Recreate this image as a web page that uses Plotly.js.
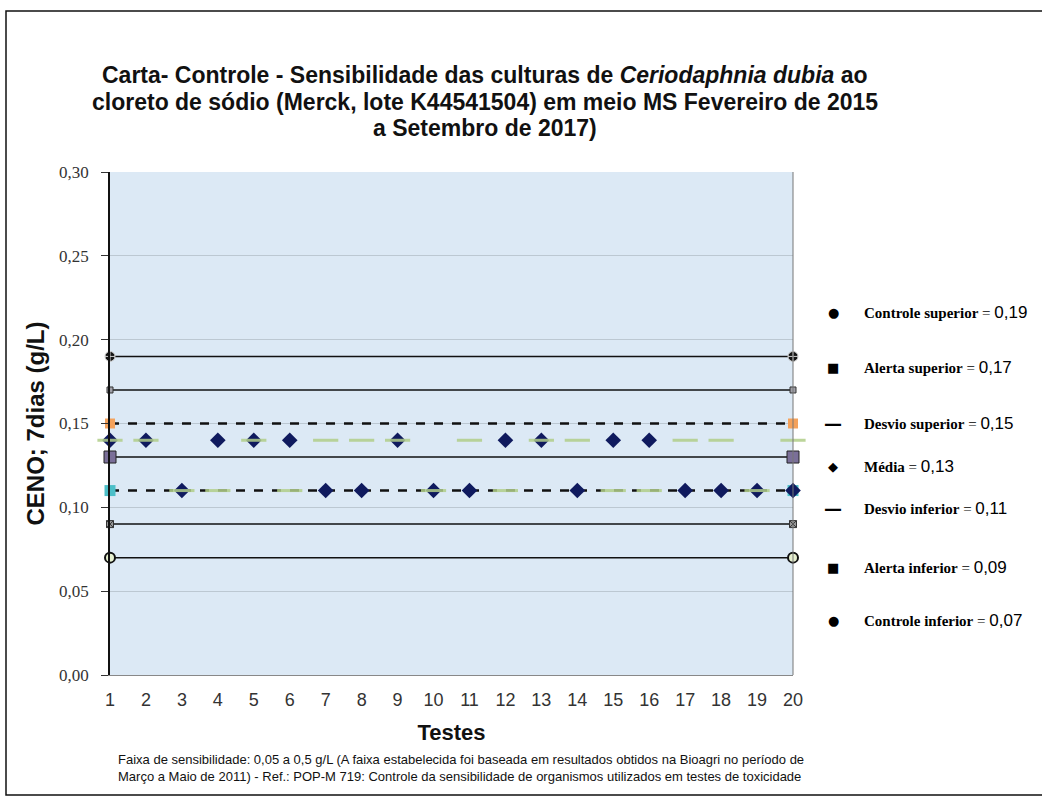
<!DOCTYPE html>
<html>
<head>
<meta charset="utf-8">
<script src="https://cdn.plot.ly/plotly-3.0.1.min.js"></script>
<style>
  body { margin: 0; background: #fff; }
  #chart { width: 1042px; height: 803px; }
</style>
</head>
<body>
<div id="chart"></div>
<script>
// testes realizados
var testes = [1, 2, 3, 4, 5, 6, 7, 8, 9, 10, 11, 12, 13, 14, 15, 16, 17, 18, 19, 20];
// CENO 7 dias (g/L) - losangos
var ceno = [0.14, 0.14, 0.11, 0.14, 0.14, 0.14, 0.11, 0.11, 0.14, 0.11,
            0.11, 0.14, 0.14, 0.11, 0.14, 0.14, 0.11, 0.11, 0.11, 0.11];
// segunda serie (tracos verdes)
var serie2 = [0.14, 0.14, 0.11, 0.11, 0.14, 0.11, 0.14, 0.14, 0.14, 0.11,
              0.14, 0.11, 0.14, 0.14, 0.11, 0.11, 0.14, 0.14, 0.11, 0.14];

// limites da carta controle
var limNomes = ['Controle superior', 'Alerta superior', 'Desvio superior', 'Média',
                'Desvio inferior', 'Alerta inferior', 'Controle inferior'];
var limValores = [0.19, 0.17, 0.15, 0.13, 0.11, 0.09, 0.07];
var limSimbolos = ['●', '■', '<b>—</b>', '◆', '<b>—</b>', '■', '●'];

var tituloLinhas = [
  'Carta- Controle - Sensibilidade das culturas de <i>Ceriodaphnia dubia</i> ao',
  'cloreto de sódio (Merck, lote K44541504) em meio MS Fevereiro de 2015',
  'a Setembro de 2017)'
];

var limEstilos = [
  {dash: 'solid', width: 1.5, symbol: 'circle-cross', size: 10, color: '#151515', lc: '#cfcfcf', lw: 1},
  {dash: 'solid', width: 1.5, symbol: 'square', size: 6, color: '#a0a0a8', lc: '#333', lw: 1},
  {dash: 'dash', width: 2.5, symbol: 'square', size: 10, color: '#f4a25c', lc: '#f4a25c', lw: 0},
  {dash: 'solid', width: 1.5, symbol: 'square', size: 12, color: '#7a6f98', lc: '#222', lw: 1},
  {dash: 'dash', width: 2.5, symbol: 'square', size: 11, color: '#4dbfc8', lc: '#4dbfc8', lw: 0},
  {dash: 'solid', width: 1.5, symbol: 'square-x', size: 7, color: '#999', lc: '#333', lw: 1},
  {dash: 'solid', width: 1.5, symbol: 'circle', size: 10, color: '#e6f0cf', lc: '#111', lw: 2}
];

var data = [];
limValores.forEach(function(v, i) {
  var s = limEstilos[i];
  data.push({
    x: [testes[0], testes[testes.length - 1]],
    y: [v, v],
    mode: 'lines+markers',
    type: 'scatter',
    name: limNomes[i],
    cliponaxis: false,
    line: {color: '#111', width: s.width, dash: s.dash},
    marker: {symbol: s.symbol, size: s.size, color: s.color, line: {color: s.lc, width: s.lw}}
  });
});

data.push({
  x: testes,
  y: ceno,
  mode: 'markers',
  type: 'scatter',
  name: 'CENO',
  cliponaxis: false,
  marker: {symbol: 'diamond', size: 12, color: '#0f1a5e', line: {width: 0}}
});

data.push({
  x: testes,
  y: serie2,
  mode: 'markers',
  type: 'scatter',
  name: 'Serie 2',
  cliponaxis: false,
  marker: {symbol: 'line-ew', size: 18, line: {color: 'rgba(176,206,136,0.85)', width: 3}}
});

var fonteSans = 'Liberation Sans, Arial, sans-serif';

// legenda manual à direita
var legY = [312, 367, 423, 466, 508, 567, 620];
var annotations = [];
limNomes.forEach(function(n, i) {
  var py = (675 - legY[i]) / 503;
  var valor = limValores[i].toFixed(2).replace('.', ',');
  annotations.push({
    xref: 'paper', yref: 'paper', x: (833 - 110) / 683, y: py,
    text: limSimbolos[i], showarrow: false, xanchor: 'center', yanchor: 'middle',
    font: {family: 'DejaVu Sans', size: limSimbolos[i].indexOf('—') >= 0 ? 18 : 13, color: '#000'}
  });
  annotations.push({
    xref: 'paper', yref: 'paper', x: (862 - 110) / 683, y: py,
    text: '<b>' + n + '</b> = <span style="font-family:Liberation Sans;font-size:17px">' + valor + '</span>',
    showarrow: false, xanchor: 'left', yanchor: 'middle',
    font: {family: 'Liberation Serif', size: 15, color: '#000'}
  });
});

// título
var tituloY = [75, 102, 128];
tituloLinhas.forEach(function(t, i) {
  annotations.push({
    xref: 'paper', yref: 'paper', x: (485 - 110) / 683, y: (675 - tituloY[i]) / 503,
    text: '<b>' + t + '</b>',
    showarrow: false, xanchor: 'center', yanchor: 'middle',
    font: {family: fonteSans, size: 23, color: '#111'}
  });
});

// rodapé
annotations.push({
  xref: 'paper', yref: 'paper', x: (116 - 110) / 683, y: (675 - 768) / 503,
  text: 'Faixa de sensibilidade: 0,05 a 0,5 g/L (A faixa estabelecida foi baseada em resultados obtidos na Bioagri no período de<br>' +
        'Março a Maio de 2011) - Ref.: POP-M 719: Controle da sensibilidade de organismos utilizados em testes de toxicidade',
  showarrow: false, xanchor: 'left', yanchor: 'middle', align: 'left',
  font: {family: fonteSans, size: 13, color: '#111'}
});

var layout = {
  width: 1042,
  height: 803,
  margin: {l: 110, r: 249, t: 172, b: 128},
  paper_bgcolor: '#ffffff',
  plot_bgcolor: '#dce9f5',
  showlegend: false,
  separators: ',.',
  xaxis: {
    range: [1, 20],
    tickvals: testes,
    showgrid: false,
    zeroline: false,
    showline: true,
    linecolor: '#888',
    linewidth: 1,
    ticklabelstandoff: 8,
    tickfont: {family: fonteSans, size: 18, color: '#333'},
    title: {text: '<b>Testes</b>', standoff: 16,
            font: {family: fonteSans, size: 22, color: '#111'}}
  },
  yaxis: {
    range: [0, 0.30],
    dtick: 0.05,
    tickformat: '.2f',
    ticks: 'outside',
    ticklen: 7,
    tickcolor: '#333',
    showgrid: true,
    gridcolor: '#bcc8d2',
    gridwidth: 1,
    zeroline: false,
    showline: true,
    linecolor: '#111',
    linewidth: 1.5,
    ticklabelstandoff: 9,
    tickfont: {family: 'Liberation Serif', size: 17, color: '#333'},
    title: {text: '<b>CENO; 7dias (g/L)</b>', standoff: 8,
            font: {family: fonteSans, size: 24, color: '#111'}}
  },
  shapes: [
    {type: 'rect', xref: 'paper', yref: 'paper',
     x0: (6 - 110) / 683, x1: (1060 - 110) / 683, y0: (675 - 795) / 503, y1: (675 - 11) / 503,
     line: {color: '#111', width: 1.5}, fillcolor: 'rgba(0,0,0,0)', layer: 'below'},
    {type: 'line', xref: 'paper', yref: 'paper', x0: 1, x1: 1, y0: 0, y1: 1,
     line: {color: '#777', width: 1}}
  ],
  annotations: annotations
};

Plotly.newPlot('chart', data, layout, {displayModeBar: false});
</script>
</body>
</html>
